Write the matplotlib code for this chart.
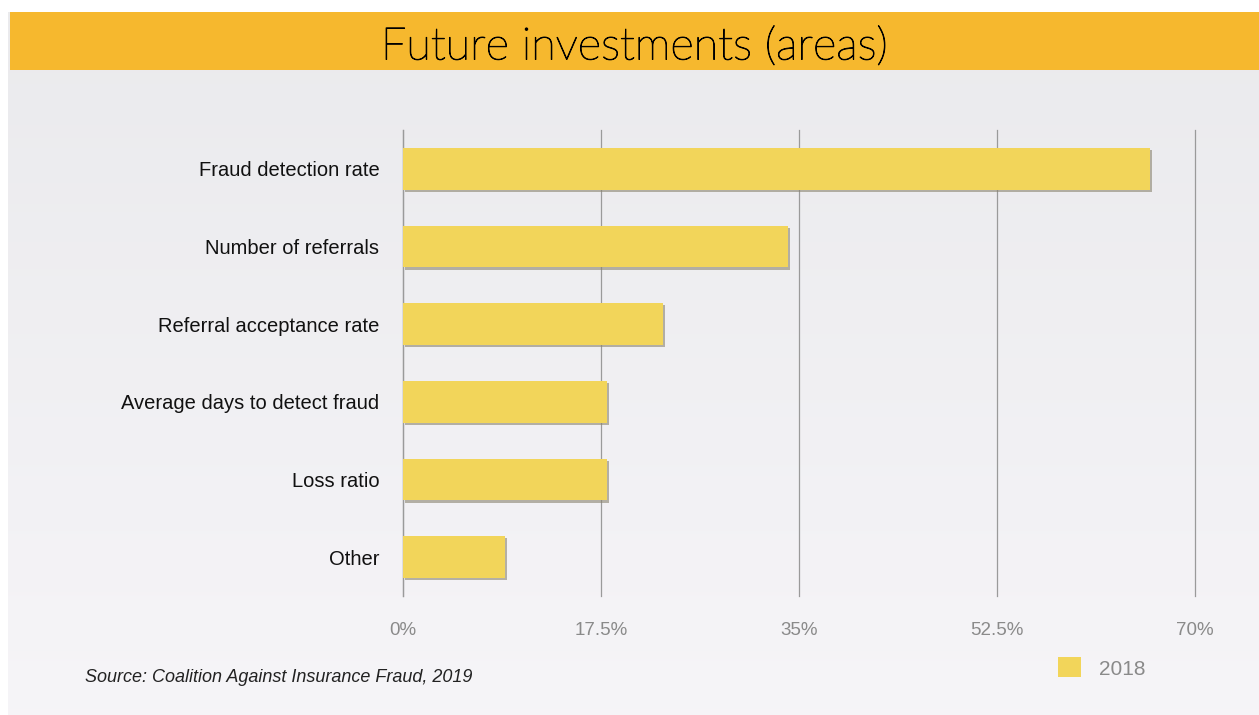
import numpy as np
import matplotlib.pyplot as plt
import matplotlib.patheffects as pe
from matplotlib.patches import Rectangle

categories = ["Fraud detection rate", "Number of referrals", "Referral acceptance rate",
              "Average days to detect fraud", "Loss ratio", "Other"]
values_2018 = [66, 34, 23, 18, 18, 9]
xticks = [0, 17.5, 35, 52.5, 70]
xtick_labels = ["0%", "17.5%", "35%", "52.5%", "70%"]
series_name = "2018"
title = "Future investments (areas)"
source = "Source: Coalition Against Insurance Fraud, 2019"

W, H = 1259, 715
fig = plt.figure(figsize=(W / 100, H / 100), dpi=100)
fig.patch.set_facecolor("white")

# slide background
bg = fig.add_axes([0, 0, 1, 1])
bg.set_xlim(0, W)
bg.set_ylim(H, 0)
bg.axis("off")
grad = np.linspace(0, 1, 256)[:, None]
c0 = np.array([0.918, 0.918, 0.929])
c1 = np.array([0.965, 0.960, 0.972])
img = c0[None, None, :] * (1 - grad[..., None]) + c1[None, None, :] * grad[..., None]
bg.imshow(img, extent=(8, W, H, 12), aspect="auto", zorder=0)
bg.add_patch(Rectangle((10, 12), W - 10, 58, facecolor="#F6B82E", edgecolor="none", zorder=1))
bg.text(634, 47, title, ha="center", va="center", fontsize=32.5, family="Lato",
        fontweight="light", color="#000000", zorder=2,
        path_effects=[pe.withStroke(linewidth=0.7, foreground="#000000")])
bg.text(85, 678, source, ha="left", va="center", fontsize=13, style="italic",
        family="Liberation Sans", color="#222222")
bg.set_xlim(0, W)
bg.set_ylim(H, 0)

# chart
left, right = 403 / W, 1195 / W
top, bottom = 130 / H, 596 / H
ax = fig.add_axes([left, 1 - bottom, right - left, bottom - top])
ax.set_facecolor("none")
y = list(range(len(categories)))
bars = ax.barh(y, values_2018, height=0.54, color="#F2D55A", zorder=3, label=series_name)
for b in bars:
    b.set_path_effects([pe.SimplePatchShadow(offset=(1.5, -1.5), shadow_rgbFace="#8a8470", alpha=0.6),
                        pe.Normal()])
ax.set_xlim(0, 70)
ax.set_ylim(5.5, -0.5)
ax.set_xticks(xticks)
ax.set_xticklabels(xtick_labels)
ax.set_yticks(y)
ax.set_yticklabels(categories)
ax.grid(axis="x", color="#9a9a9a", linewidth=0.9, zorder=0)
for gl in ax.get_xgridlines():
    gl.set_clip_on(False)
ax.tick_params(axis="both", length=0)
ax.tick_params(axis="x", pad=19, labelsize=13.5, labelcolor="#8a8a8a")
ax.tick_params(axis="y", pad=17, labelsize=14.5, labelcolor="#111111")
for lab in ax.get_xticklabels() + ax.get_yticklabels():
    lab.set_family("Liberation Sans")
for s in ["top", "right", "bottom"]:
    ax.spines[s].set_visible(False)
ax.spines["left"].set_color("#9a9a9a")
ax.spines["left"].set_linewidth(0.9)

leg = ax.legend(loc="center left", bbox_to_anchor=(1039 / W, 1 - 668 / H),
                bbox_transform=fig.transFigure, frameon=False, handlelength=1.1,
                handleheight=1.1, handletextpad=0.9,
                prop={"family": "Liberation Sans", "size": 15})
for t in leg.get_texts():
    t.set_color("#8a8a8a")
for h in leg.legend_handles:
    h.set_path_effects([])

fig.savefig("out.png", dpi=100, facecolor=fig.get_facecolor())
